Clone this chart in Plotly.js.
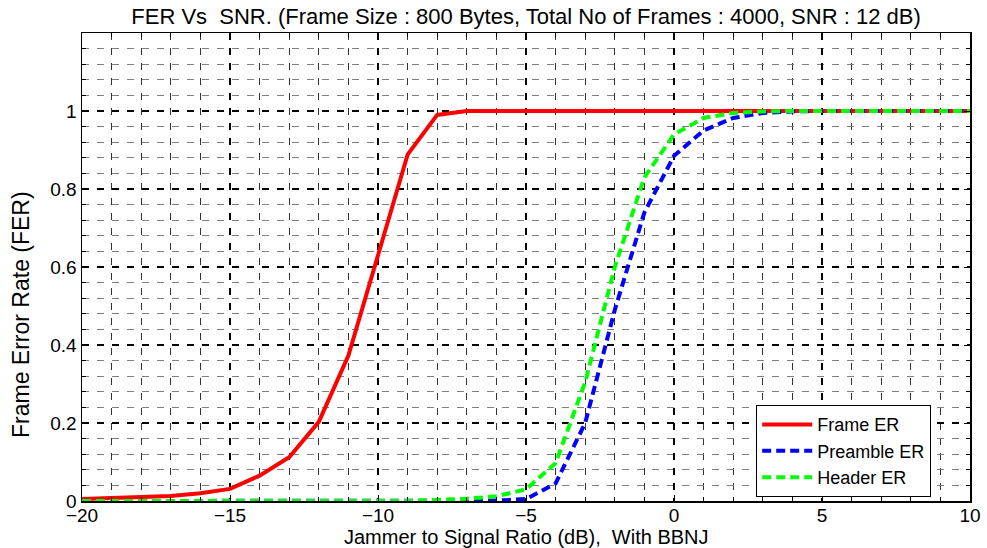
<!DOCTYPE html>
<html>
<head>
<meta charset="utf-8">
<script src="https://cdn.plot.ly/plotly-3.0.1.min.js"></script>
<style>
  html, body { margin: 0; padding: 0; background: #ffffff; }
  #chart { width: 987px; height: 548px; }
</style>
</head>
<body>
<div id="chart"></div>
<script>
// Jammer to Signal Ratio (dB)
const jsr = [-20, -19, -18, -17, -16, -15, -14, -13, -12, -11, -10, -9, -8, -7, -6, -5,
             -4, -3, -2, -1, 0, 1, 2, 3, 4, 5, 6, 7, 8, 9, 10];
const frameER = [0.005, 0.007, 0.009, 0.013, 0.020, 0.031, 0.065, 0.112, 0.203, 0.373,
                 0.630, 0.888, 0.990, 1, 1, 1, 1, 1, 1, 1, 1, 1, 1, 1, 1, 1, 1, 1, 1, 1, 1];
const preambleER = [0, 0, 0, 0, 0, 0, 0, 0, 0, 0, 0, 0, 0, 0, 0.001, 0.005,
                    0.045, 0.200, 0.490, 0.740, 0.885, 0.950, 0.982, 0.995, 0.999, 1, 1, 1, 1, 1, 1];
const headerER = [0, 0, 0, 0, 0, 0, 0, 0, 0, 0, 0, 0, 0.003, 0.006, 0.012, 0.030,
                  0.097, 0.305, 0.600, 0.830, 0.940, 0.982, 0.995, 0.999, 1, 1, 1, 1, 1, 1, 1];
const seriesNames = ['Frame ER', 'Preamble ER', 'Header ER'];
const chartTitle = 'FER Vs  SNR. (Frame Size : 800 Bytes, Total No of Frames : 4000, SNR : 12 dB)';
const xTitle = 'Jammer to Signal Ratio (dB),  With BBNJ';
const yTitle = 'Frame Error Rate (FER)';

const FONT = 'Liberation Sans, Arial, Helvetica, sans-serif';
const DASH = '7px,8px';

const traces = [
  { x: jsr, y: frameER, name: seriesNames[0], type: 'scatter', mode: 'lines',
    line: { color: '#ff0000', width: 4 } },
  { x: jsr, y: preambleER, name: seriesNames[1], type: 'scatter', mode: 'lines',
    line: { color: '#0000ff', width: 4, dash: '9px,5px' } },
  { x: jsr, y: headerER, name: seriesNames[2], type: 'scatter', mode: 'lines',
    line: { color: '#00ff00', width: 4, dash: '9px,5px' } }
];

// plot area: 888 x 468 px so that major grid lines land on whole pixels
const ML = 82, MT = 33, PW = 888, PH = 468;

const layout = {
  width: 987, height: 548,
  paper_bgcolor: '#ffffff', plot_bgcolor: '#ffffff',
  margin: { l: ML, r: 987 - ML - PW, t: MT, b: 548 - MT - PH, pad: 0 },
  font: { family: FONT, size: 19, color: '#000000' },
  title: {
    text: chartTitle,
    font: { family: FONT, size: 22, color: '#000000' },
    x: 0.5, xref: 'paper', xanchor: 'center',
    y: 1 - 16 / 548, yref: 'container', yanchor: 'middle'
  },
  showlegend: true,
  legend: {
    x: (756 - ML) / PW, y: (501 - 497) / PH, xanchor: 'left', yanchor: 'bottom',
    bgcolor: '#ffffff', bordercolor: '#000000', borderwidth: 1.2,
    font: { family: FONT, size: 18, color: '#000000' },
    tracegroupgap: 0, itemwidth: 50
  },
  xaxis: {
    range: [-20, 10],
    tickmode: 'linear', tick0: -20, dtick: 5,
    ticks: 'inside', ticklen: 6, tickwidth: 1, tickcolor: '#000000',
    showline: true, linecolor: '#000000', linewidth: 1.5, mirror: 'ticks',
    showgrid: true, gridcolor: '#000000', gridwidth: 1.5, griddash: DASH,
    zeroline: false,
    tickfont: { family: FONT, size: 19, color: '#000000' },
    ticklabelstandoff: -3,
    minor: { dtick: 1, showgrid: true, gridcolor: '#333333', gridwidth: 1,
             griddash: DASH, ticks: 'inside', ticklen: 4, tickcolor: '#000000' }
  },
  yaxis: {
    range: [0, 1.2],
    tickmode: 'linear', tick0: 0, dtick: 0.2,
    labelalias: { '1.2': '' },
    ticks: 'inside', ticklen: 6, tickwidth: 1, tickcolor: '#000000',
    showline: true, linecolor: '#000000', linewidth: 1.5, mirror: 'ticks',
    showgrid: true, gridcolor: '#000000', gridwidth: 1.5, griddash: DASH,
    zeroline: false,
    tickfont: { family: FONT, size: 19, color: '#000000' },
    ticklabelstandoff: 0,
    minor: { dtick: 0.04, showgrid: true, gridcolor: '#808080', gridwidth: 1,
             griddash: DASH, ticks: 'inside', ticklen: 4, tickcolor: '#000000' }
  },
  annotations: [
    { text: yTitle, textangle: -90,
      xref: 'paper', yref: 'paper',
      x: (21 - ML) / PW, y: (MT + PH - 315) / PH, xanchor: 'center', yanchor: 'middle',
      showarrow: false, font: { family: FONT, size: 23, color: '#000000' } },
    { text: xTitle,
      xref: 'paper', yref: 'paper',
      x: 0.5, y: (MT + PH - 537) / PH, xanchor: 'center', yanchor: 'middle',
      showarrow: false, font: { family: FONT, size: 20, color: '#000000' } }
  ]
};

Plotly.newPlot('chart', traces, layout, { displayModeBar: false, staticPlot: true });
</script>
</body>
</html>
